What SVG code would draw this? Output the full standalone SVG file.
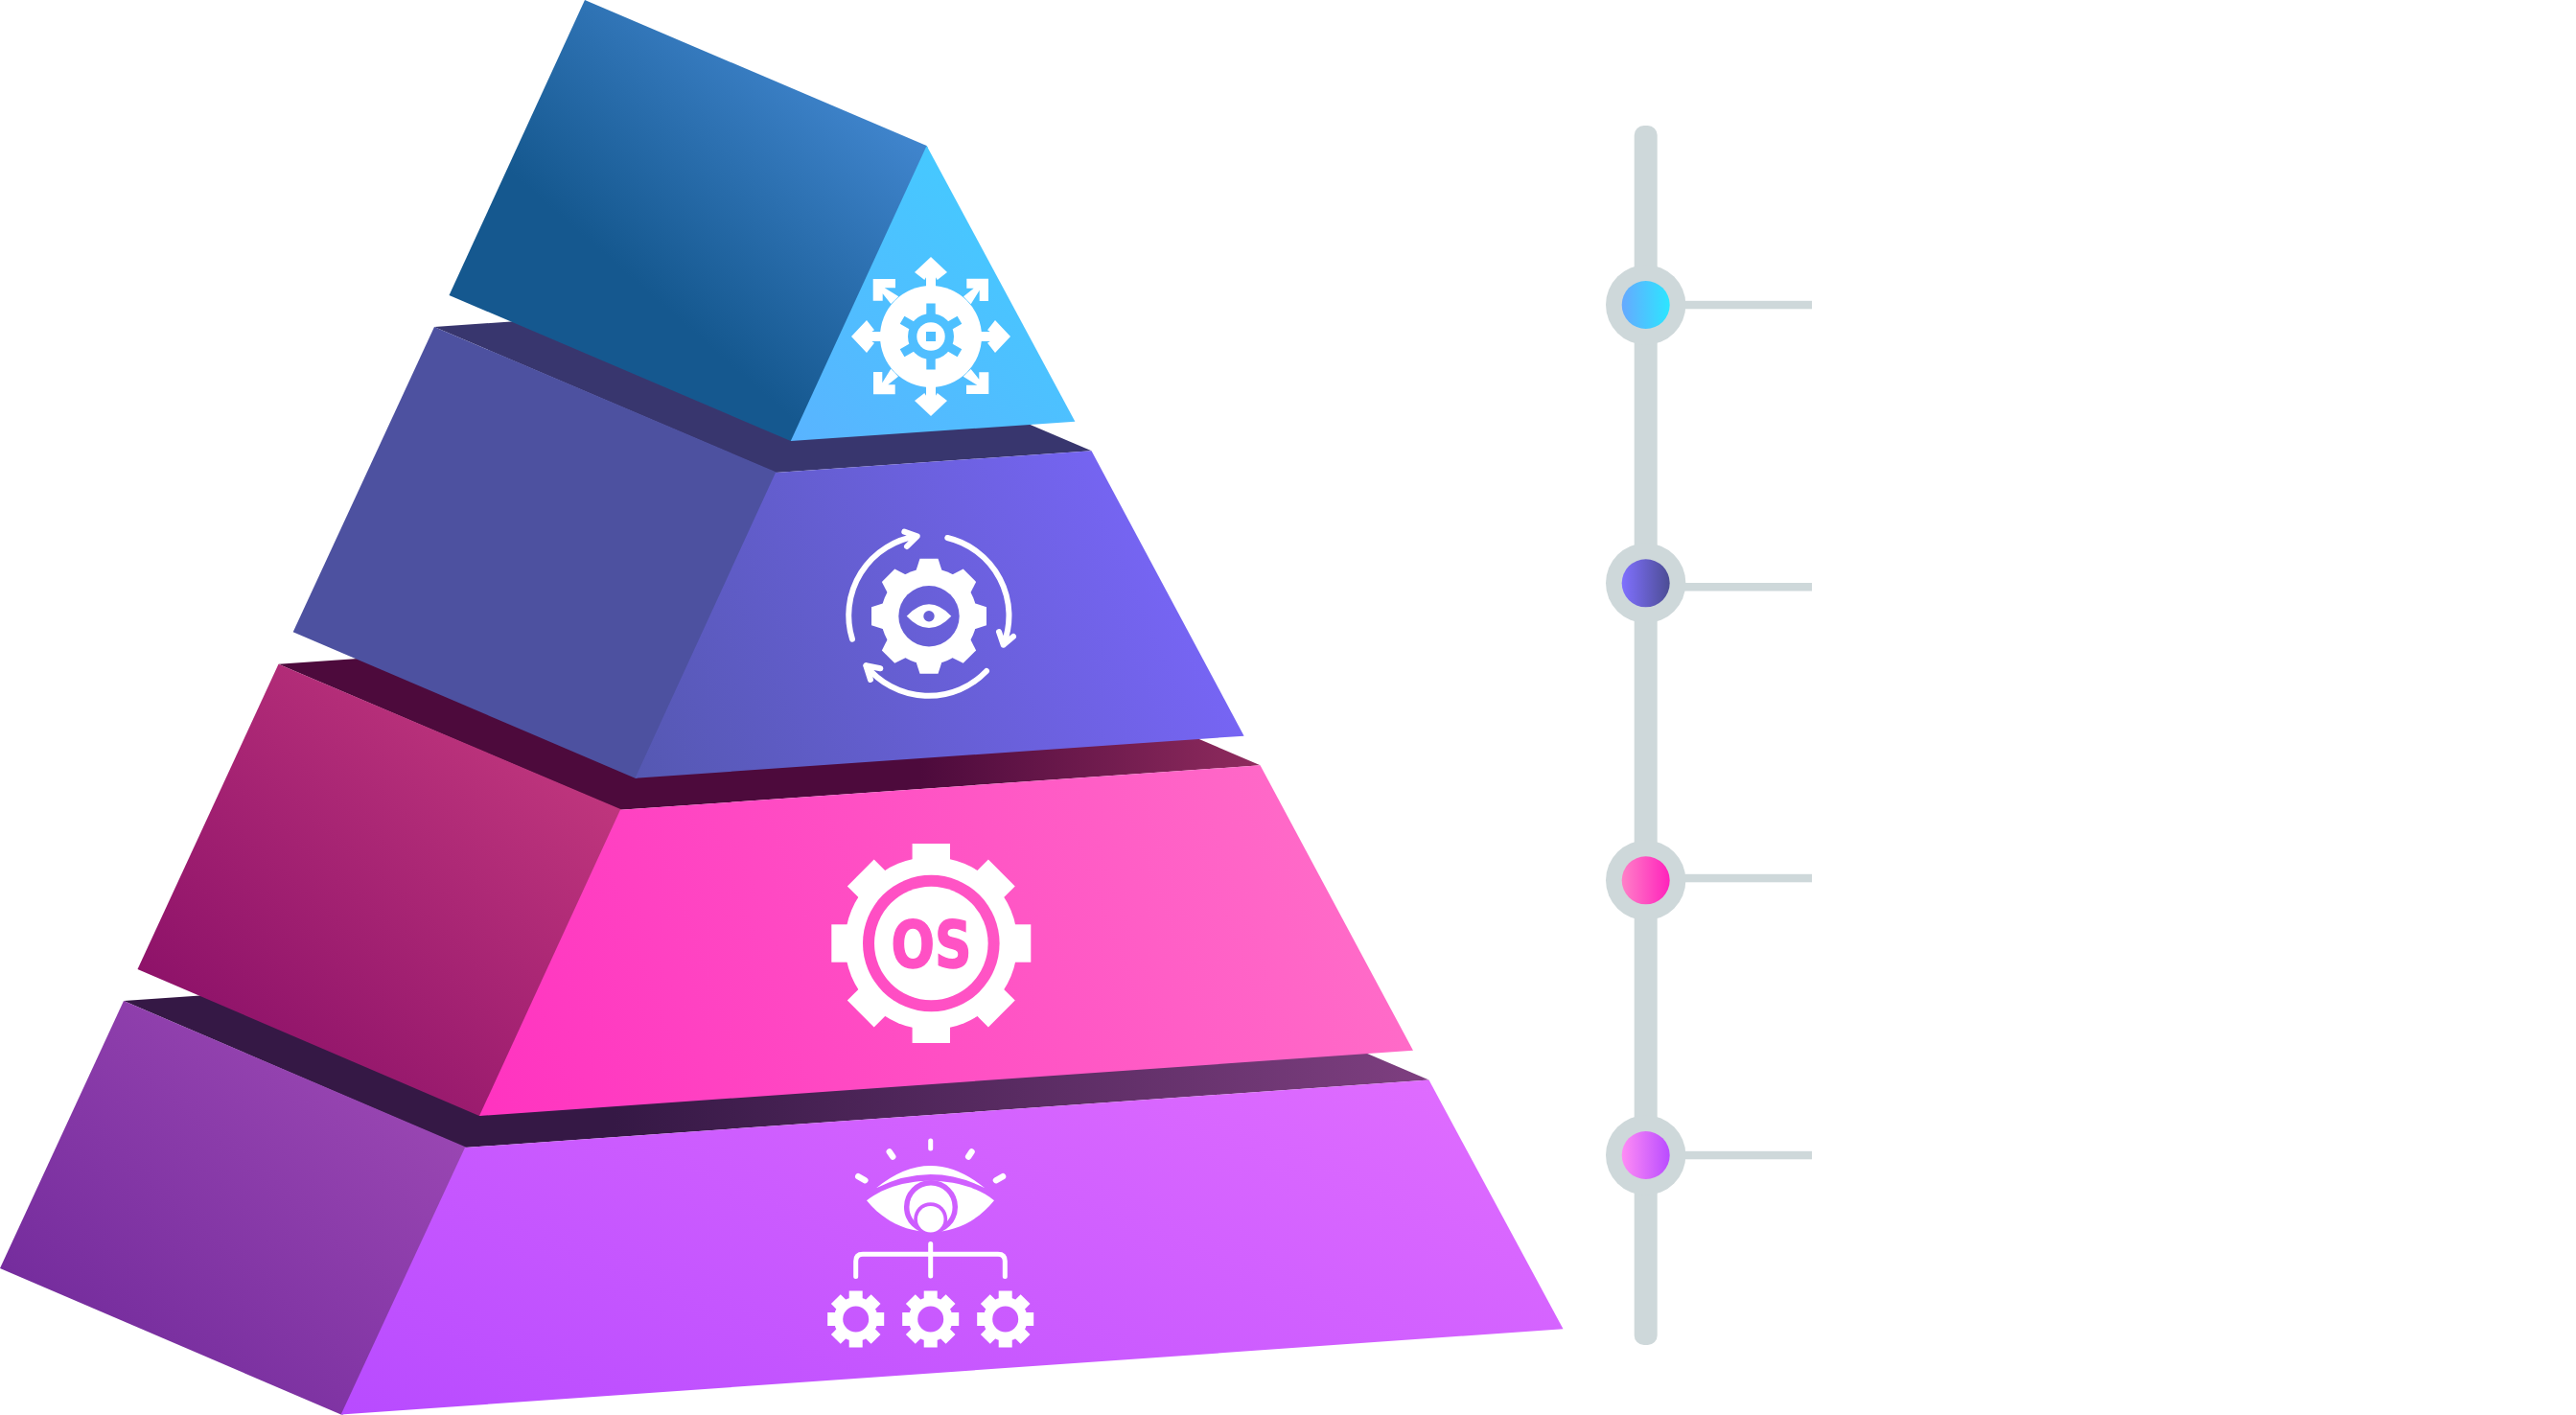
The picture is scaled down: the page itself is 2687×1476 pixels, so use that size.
<svg xmlns="http://www.w3.org/2000/svg" xmlns:xlink="http://www.w3.org/1999/xlink" width="2687" height="1476" viewBox="0 0 2687 1476">
<style>
.w{fill:#fff}
.wl{fill:none;stroke:#fff;stroke-linecap:round;stroke-linejoin:round}
.spine{fill:#ced8da}
.ring{fill:#ced8da}
</style>
<defs>
<linearGradient id="t1l" gradientUnits="userSpaceOnUse" x1="670" y1="300" x2="880" y2="60"><stop offset="0" stop-color="#15588f"/><stop offset="1" stop-color="#4287d0"/></linearGradient>
<linearGradient id="t1r" gradientUnits="userSpaceOnUse" x1="830" y1="460" x2="1040" y2="200"><stop offset="0" stop-color="#59b4ff"/><stop offset="1" stop-color="#45c9ff"/></linearGradient>
<linearGradient id="t2r" gradientUnits="userSpaceOnUse" x1="663" y1="811" x2="1220" y2="560"><stop offset="0" stop-color="#5558b2"/><stop offset="1" stop-color="#7765f5"/></linearGradient>
<linearGradient id="t3l" gradientUnits="userSpaceOnUse" x1="200" y1="1100" x2="560" y2="700"><stop offset="0" stop-color="#8b1068"/><stop offset="1" stop-color="#c4397f"/></linearGradient>
<linearGradient id="t3r" gradientUnits="userSpaceOnUse" x1="500" y1="1164" x2="1400" y2="830"><stop offset="0" stop-color="#ff33c0"/><stop offset="1" stop-color="#ff6cc8"/></linearGradient>
<linearGradient id="t3s" gradientUnits="userSpaceOnUse" x1="960" y1="0" x2="1314" y2="0"><stop offset="0" stop-color="#4d0a3c"/><stop offset="1" stop-color="#8f2b5e"/></linearGradient>
<linearGradient id="t4l" gradientUnits="userSpaceOnUse" x1="50" y1="1400" x2="420" y2="980"><stop offset="0" stop-color="#732b9c"/><stop offset="1" stop-color="#a34db8"/></linearGradient>
<linearGradient id="t4r" gradientUnits="userSpaceOnUse" x1="356" y1="1475" x2="690" y2="666"><stop offset="0" stop-color="#b84bff"/><stop offset="1" stop-color="#e571ff"/></linearGradient>
<linearGradient id="t4s" gradientUnits="userSpaceOnUse" x1="640" y1="0" x2="1490" y2="0"><stop offset="0" stop-color="#351845"/><stop offset="1" stop-color="#7e3f80"/></linearGradient>
<linearGradient id="d1"><stop offset="0" stop-color="#66a9ff"/><stop offset="1" stop-color="#2ce6ff"/></linearGradient>
<linearGradient id="d2"><stop offset="0" stop-color="#8070ff"/><stop offset="1" stop-color="#4c4d94"/></linearGradient>
<linearGradient id="d3"><stop offset="0" stop-color="#ff80c8"/><stop offset="1" stop-color="#ff22bb"/></linearGradient>
<linearGradient id="d4"><stop offset="0" stop-color="#ff8cf5"/><stop offset="1" stop-color="#b94cff"/></linearGradient>
<path id="arN" d="M0-83L17-67 6.7-59 5-61.7V-52H-5V-61.7L-6.7-59-17-67Z"/>
<path id="arNE" d="M37.3-60.3H60V-37H50.7V-48.3L41.7-33.7 34-41.7 44.7-50.3H37.3Z"/>
<path id="t2t" d="M-9.5-60H9.5L14-46H-14Z"/>
<rect id="t3t" x="-19.7" y="-104" width="39.4" height="30"/>
<rect id="t4t" x="-7" y="-29.5" width="14" height="14"/>
<g id="sg"><circle r="23"/><use href="#t4t"/><use href="#t4t" transform="rotate(45)"/><use href="#t4t" transform="rotate(90)"/><use href="#t4t" transform="rotate(135)"/><use href="#t4t" transform="rotate(180)"/><use href="#t4t" transform="rotate(225)"/><use href="#t4t" transform="rotate(270)"/><use href="#t4t" transform="rotate(315)"/></g>
</defs>

<g id="tier4">
<polygon points="129,1044 1134,974 1490.5,1126.5 485,1197" fill="url(#t4s)"/>
<polygon points="129,1044 487,1197 358,1475.5 355.7,1475.5 0,1323" fill="url(#t4l)"/>
<polygon points="485,1197 1490.5,1126.5 1630.5,1386.3 355.7,1475.5" fill="url(#t4r)"/>
<g id="icon4">
<g class="wl" stroke-width="5">
<path d="M970.7 1190V1198"/>
<path d="M892.7 1331.5V1315.5Q892.7 1308.3 900 1308.3H1041Q1048.3 1308.3 1048.3 1315.5V1331.5M970.7 1297.5V1331"/>
</g>
<path class="wl" stroke-width="6.5" d="M927.8 1201.5L931.2 1206.5M1013.5 1201.5L1010.2 1206.5M895.3 1227.2L902.3 1231.2M1046 1227.2L1039 1231.2"/>
<path class="w" d="M914 1239.3Q970.7 1192.7 1027.3 1239.3Q970.7 1210.7 914 1239.3Z"/>
<path class="w" d="M904 1252.3C923.3 1236.7 950 1231.7 970.7 1231.7C991.3 1231.7 1018 1236.7 1037 1252.3C1020 1273.3 996.7 1285 970.7 1285C944.7 1285 921.3 1273.3 904 1252.3Z"/>
<circle cx="971" cy="1259" r="25.3" fill="none" stroke="url(#t4r)" stroke-width="5.5"/>
<circle cx="970.7" cy="1271.7" r="17.5" fill="url(#t4r)"/>
<circle class="w" cx="970.7" cy="1271.7" r="13.8"/>
<use href="#sg" class="w" x="892.7" y="1376"/>
<use href="#sg" class="w" x="970.7" y="1376"/>
<use href="#sg" class="w" x="1048.7" y="1376"/>
<circle cx="892.7" cy="1376" r="13.5" fill="url(#t4r)"/>
<circle cx="970.7" cy="1376" r="13.5" fill="url(#t4r)"/>
<circle cx="1048.7" cy="1376" r="13.5" fill="url(#t4r)"/>
</g>
</g>

<g id="tier3">
<polygon points="290.5,692.8 959,646 1314.5,798.3 647,844.8" fill="url(#t3s)"/>
<polygon points="290.5,692.8 649,844.8 502,1164 500,1164 143.5,1011" fill="url(#t3l)"/>
<polygon points="647,844.8 1314.5,798.3 1474,1095.8 500,1164" fill="url(#t3r)"/>
<g id="icon3" transform="translate(971.3 984)">
<g class="w"><circle r="90"/>
<use href="#t3t"/><use href="#t3t" transform="rotate(45)"/><use href="#t3t" transform="rotate(90)"/><use href="#t3t" transform="rotate(135)"/><use href="#t3t" transform="rotate(180)"/><use href="#t3t" transform="rotate(225)"/><use href="#t3t" transform="rotate(270)"/><use href="#t3t" transform="rotate(315)"/></g>
</g>
<circle cx="971.3" cy="984" r="71.3" fill="url(#t3r)"/>
<circle class="w" cx="971.3" cy="984" r="59.3"/>
<text x="929.5" y="1008.5" textLength="84" lengthAdjust="spacingAndGlyphs" font-family="'DejaVu Sans',sans-serif" font-weight="700" font-size="67" fill="url(#t3r)" stroke="url(#t3r)" stroke-width="1.5">OS</text>
</g>

<g id="tier2">
<polygon points="453,341 782,318 1138.5,470.3 809,493" fill="#38366e"/>
<polygon points="453,341 811,493 664.5,811.7 662.5,811.7 305.7,659.3" fill="#4d51a0"/>
<polygon points="809,493 1138.5,470.3 1297.6,767.7 662.5,811.7" fill="url(#t2r)"/>
<g id="icon2">
<g class="w" transform="translate(969 642.7)"><circle r="50"/>
<use href="#t2t"/><use href="#t2t" transform="rotate(45)"/><use href="#t2t" transform="rotate(90)"/><use href="#t2t" transform="rotate(135)"/><use href="#t2t" transform="rotate(180)"/><use href="#t2t" transform="rotate(225)"/><use href="#t2t" transform="rotate(270)"/><use href="#t2t" transform="rotate(315)"/></g>
<circle cx="969" cy="642.7" r="31.7" fill="url(#t2r)"/>
<path class="w" d="M945.7 642.7Q969 618 992.3 642.7Q969 667.4 945.7 642.7Z"/>
<circle cx="969" cy="642.7" r="5.7" fill="url(#t2r)"/>
<g class="wl" stroke-width="6">
<path d="M889 666.7A83.5 83.5 0 0 1 956.7 559.3M943.3 554.7L956.7 559.3L946 570"/>
<path d="M988.3 561A83.5 83.5 0 0 1 1046.7 672.7M1042 659L1046.7 672.7L1057 664"/>
<path d="M1029 700A83.5 83.5 0 0 1 903.3 694.3M918.3 697.3L903.3 694.3L908 709"/>
</g>
</g>
</g>

<g id="tier1">
<polygon points="610,0 966.6,152 967.4,153.6 825.8,460 824.8,460 468.5,308" fill="url(#t1l)"/>
<polygon points="966.6,152 1121.4,439.7 824.8,460" fill="url(#t1r)"/>
<g id="icon1">
<g class="w" transform="translate(971 351)"><circle r="53"/>
<use href="#arN"/><use href="#arN" transform="rotate(90)"/><use href="#arN" transform="rotate(180)"/><use href="#arN" transform="rotate(270)"/>
<use href="#arNE"/><use href="#arNE" transform="rotate(90)"/><use href="#arNE" transform="rotate(180)"/><use href="#arNE" transform="rotate(270)"/></g>
<path fill="url(#t1r)" d="M966.3 316.5H975.7V331H966.3ZM966.3 385.5H975.7V371H966.3ZM998.55 372.32L1003.25 364.18 990.67 356.93 985.97 365.07ZM998.55 329.68L1003.25 337.82 990.67 345.07 985.97 336.93ZM943.45 372.32L938.75 364.18 951.33 356.93 956.03 365.07ZM943.45 329.68L938.75 337.82 951.33 345.07 956.03 336.93Z"/>
<circle cx="971" cy="351" r="24" fill="url(#t1r)"/>
<circle class="w" cx="971" cy="351" r="14.7"/>
<rect x="966" y="346" width="10" height="10" fill="url(#t1r)"/>
</g>
</g>

<g id="connectors">
<rect class="spine" x="1704.7" y="131" width="24" height="1272" rx="10"/>
<rect class="spine" x="1750" y="313.8" width="140" height="8.5"/>
<rect class="spine" x="1750" y="608" width="140" height="8.5"/>
<rect class="spine" x="1750" y="911.8" width="140" height="8.5"/>
<rect class="spine" x="1750" y="1200.8" width="140" height="8.5"/>
</g>

<g id="marker1"><circle class="ring" cx="1716.7" cy="318" r="41.7"/><circle cx="1716.7" cy="318" r="25" fill="url(#d1)"/></g>
<g id="marker2"><circle class="ring" cx="1716.7" cy="608.3" r="41.7"/><circle cx="1716.7" cy="608.3" r="25" fill="url(#d2)"/></g>
<g id="marker3"><circle class="ring" cx="1716.7" cy="918.3" r="41.7"/><circle cx="1716.7" cy="918.3" r="25" fill="url(#d3)"/></g>
<g id="marker4"><circle class="ring" cx="1716.7" cy="1205" r="41.7"/><circle cx="1716.7" cy="1205" r="25" fill="url(#d4)"/></g>
</svg>
